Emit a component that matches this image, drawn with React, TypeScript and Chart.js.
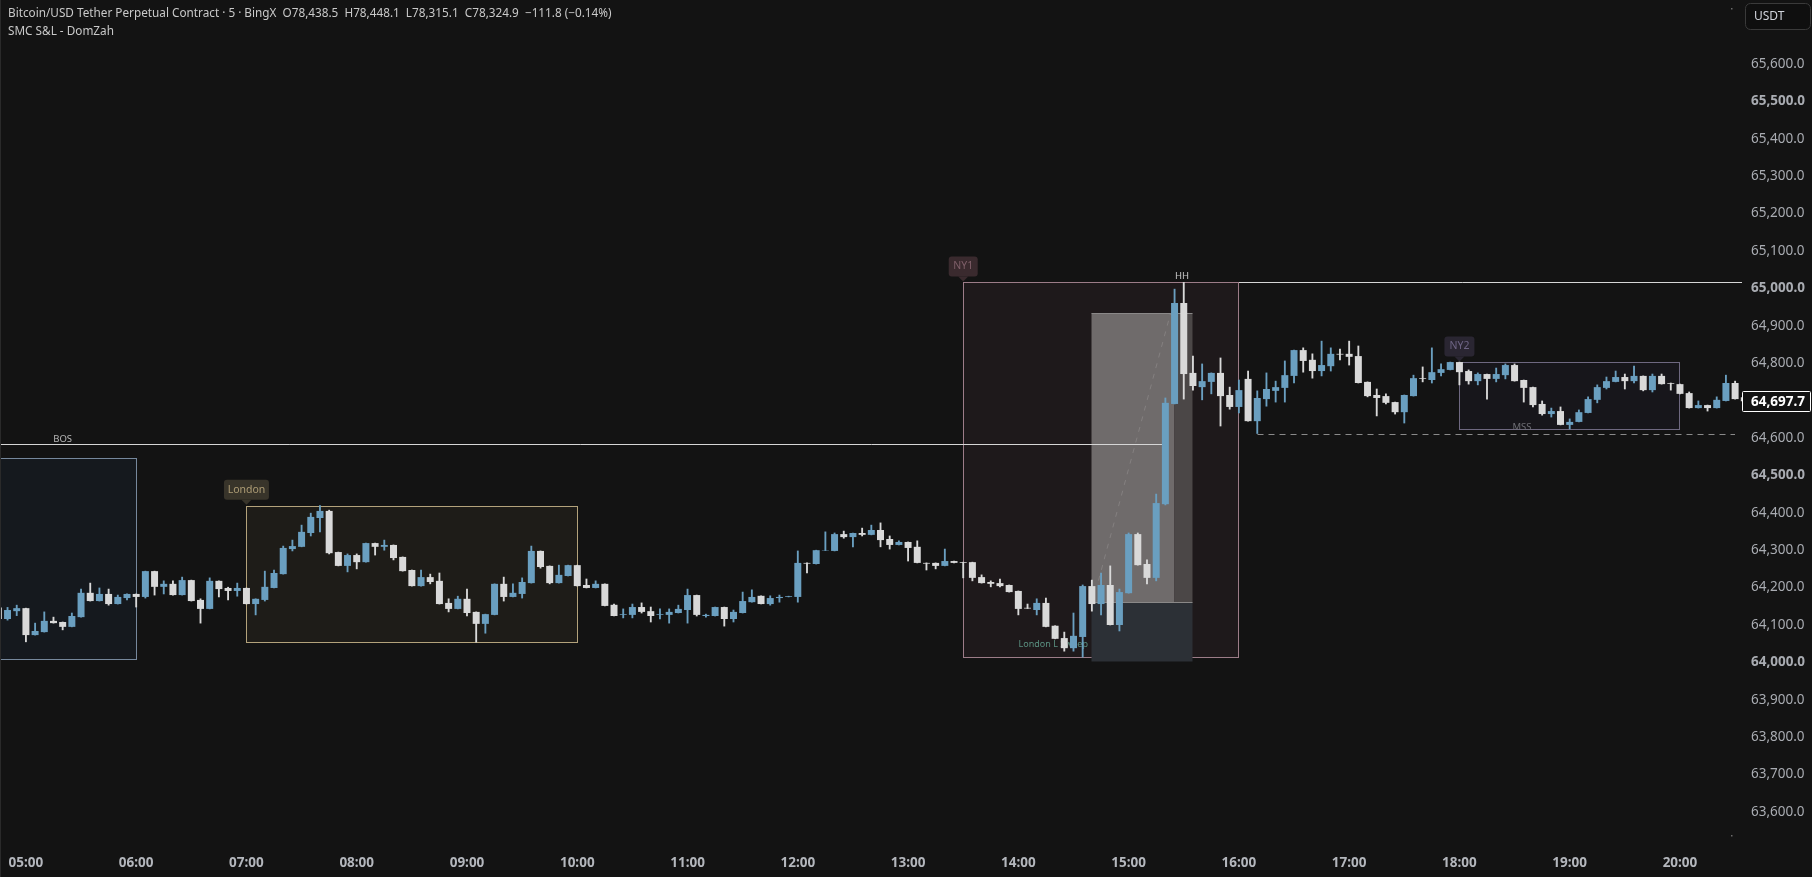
import React, { useEffect, useRef } from "react";
import { Chart, registerables } from "chart.js";

Chart.register(...registerables);

const firstIndex = -3;
const hourLabels = ["05:00","06:00","07:00","08:00","09:00","10:00","11:00","12:00","13:00","14:00","15:00","16:00","17:00","18:00","19:00","20:00"];

const opens = [64147,64116,64137,64145,
64073,64081,64111,64108,64095,64121,64186,64164,64183,64156,64172,64183,
64175,64244,64202,64210,64180,64220,64167,64143,64218,64199,64191,64199,
64156,64167,64199,64236,64303,64309,64346,64386,64405,64295,64258,64287,
64268,64319,64309,64314,64282,64247,64204,64228,64218,64159,64143,64170,
64135,64103,64127,64210,64175,64183,64212,64298,64258,64212,64231,64260,
64207,64199,64210,64154,64127,64127,64148,64137,64127,64127,64132,64140,
64180,64124,64124,64148,64116,64132,64161,64178,64156,64172,64175,64175,
64266,64263,64299,64298,64343,64335,64346,64341,64354,64330,64314,64322,
64309,64266,64266,64258,64271,64268,64268,64228,64215,64212,64207,64191,
64146,64140,64159,64098,64065,64038,64068,64204,64156,64207,64100,64185,
64343,64263,64226,64423,64691,64961,64774,64736,64750,64774,64715,64683,
64758,64645,64704,64726,64734,64766,64835,64809,64779,64792,64825,64825,
64819,64750,64715,64712,64696,64669,64712,64760,64755,64774,64782,64803,
64779,64752,64771,64758,64768,64795,64755,64736,64691,64664,64672,64635,
64643,64667,64702,64734,64750,64763,64752,64766,64728,64766,64747,64744,
64720,64680,64688,64680,64699,64747,64709];

const closes = [64116,64140,64145,64073,
64084,64111,64105,64095,64124,64186,64164,64183,64156,64175,64183,64175,
64244,64202,64210,64180,64220,64164,64143,64218,64196,64191,64199,64156,
64170,64202,64239,64306,64311,64349,64389,64405,64292,64258,64287,64268,
64319,64309,64314,64279,64244,64204,64228,64215,64156,64143,64170,64132,
64103,64129,64210,64175,64186,64215,64298,64255,64212,64234,64260,64204,
64199,64210,64151,64124,64129,64148,64135,64124,64129,64135,64143,64180,
64127,64127,64148,64116,64135,64164,64175,64156,64172,64175,64177,64266,
64264,64300,64300,64343,64335,64346,64341,64354,64327,64314,64322,64306,
64266,64264,64258,64271,64266,64266,64226,64212,64210,64204,64188,64143,
64144,64159,64095,64063,64038,64071,64204,64156,64207,64100,64188,64343,
64260,64226,64426,64694,64961,64771,64739,64752,64774,64712,64683,64728,
64645,64707,64731,64736,64768,64835,64806,64779,64795,64825,64823,64817,
64747,64712,64707,64694,64669,64715,64760,64758,64776,64784,64803,64776,
64752,64771,64758,64771,64795,64752,64734,64688,64664,64672,64635,64643,
64669,64704,64736,64752,64763,64752,64766,64728,64766,64744,64745,64718,
64680,64688,64680,64702,64747,64704,64698];

const highs = [64147,64147,64153,64145,
64105,64135,64121,64108,64132,64196,64212,64199,64196,64180,64183,64183,
64244,64244,64218,64218,64228,64220,64170,64226,64218,64201,64212,64199,
64170,64244,64247,64311,64327,64367,64399,64419,64407,64295,64290,64290,
64319,64319,64327,64314,64282,64247,64247,64236,64239,64170,64177,64196,
64135,64129,64210,64228,64210,64226,64311,64298,64258,64260,64260,64260,
64223,64218,64210,64156,64143,64156,64159,64148,64143,64143,64153,64196,
64180,64129,64148,64148,64140,64188,64194,64178,64178,64180,64177,64298,
64266,64300,64349,64346,64351,64346,64359,64367,64373,64338,64325,64322,
64325,64266,64266,64303,64271,64268,64268,64234,64218,64223,64207,64191,
64156,64170,64172,64098,64081,64132,64207,64220,64239,64258,64196,64346,
64346,64274,64450,64707,64998,65016,64819,64798,64774,64814,64736,64755,
64779,64726,64774,64752,64806,64835,64841,64825,64859,64841,64838,64859,
64846,64750,64731,64718,64696,64715,64768,64790,64841,64798,64803,64803,
64782,64774,64771,64787,64798,64798,64755,64736,64699,64680,64683,64651,
64675,64710,64742,64763,64779,64771,64792,64766,64771,64771,64747,64744,
64723,64699,64688,64710,64768,64752,64709];

const lows = [64116,64113,64125,64055,
64073,64081,64105,64087,64095,64121,64164,64164,64153,64156,64167,64148,
64172,64180,64183,64180,64180,64164,64105,64143,64175,64167,64177,64156,
64127,64164,64199,64236,64298,64309,64338,64349,64290,64258,64242,64250,
64268,64287,64300,64274,64244,64204,64204,64210,64156,64135,64143,64124,
64054,64078,64127,64164,64175,64172,64212,64252,64210,64212,64231,64204,
64199,64199,64151,64124,64119,64119,64132,64108,64116,64105,64132,64105,
64124,64121,64124,64097,64108,64132,64161,64156,64153,64161,64175,64161,
64239,64263,64299,64298,64332,64309,64338,64341,64309,64303,64314,64271,
64266,64247,64250,64258,64266,64226,64218,64212,64202,64202,64188,64127,
64144,64127,64095,64063,64030,64030,64014,64137,64127,64100,64084,64185,
64260,64210,64218,64421,64691,64704,64728,64702,64718,64632,64677,64667,
64645,64612,64685,64696,64696,64747,64776,64760,64766,64779,64809,64795,
64747,64710,64659,64691,64664,64640,64712,64750,64747,64766,64782,64742,
64744,64742,64704,64750,64758,64752,64696,64683,64661,64656,64635,64624,
64643,64667,64694,64731,64750,64731,64747,64726,64723,64744,64728,64718,
64680,64680,64672,64680,64699,64704,64693];

const lastPrice = 64697.7;
const legendLines = [
  "Bitcoin/USD Tether Perpetual Contract · 5 · BingX  O78,438.5  H78,448.1  L78,315.1  C78,324.9  −111.8 (−0.14%)",
  "SMC S&L - DomZah",
];

const BG = "#131313";
const UP = "#6A9FC0";
const DOWN = "#D9D9D9";
const UI_FONT = '"Noto Sans", sans-serif';

const colours = opens.map((o, k) => (closes[k] >= o ? UP : DOWN));
const bodies = opens.map((o, k) => ({ x: k + firstIndex, y: [o, closes[k]] }));
const wicks = lows.map((l, k) => ({ x: k + firstIndex, y: [l, highs[k]] }));

const noPadding = (s: any) => {
  s.paddingLeft = 0;
  s.paddingRight = 0;
  s.paddingTop = 0;
  s.paddingBottom = 0;
};

const annotationPlugin = {
  id: "smc",
  beforeDraw(chart: any) {
    const { ctx, width, height } = chart;
    ctx.save();
    ctx.fillStyle = BG;
    ctx.fillRect(0, 0, width, height);
    ctx.restore();
  },
  beforeDatasetsDraw(chart: any) {
    const { ctx, scales } = chart;
    const px = (v: number) => Math.floor(scales.x.getPixelForValue(v)) + 0.5;
    const py = (v: number) => Math.round(scales.y.getPixelForValue(v)) + 0.5;
    const areaRight = chart.chartArea.right;

    const box = (a: number, b: number, t: number, u: number, fill: string, stroke?: string) => {
      const x0 = px(a), x1 = px(b), y0 = py(t), y1 = py(u);
      ctx.fillStyle = fill;
      ctx.fillRect(x0, y0, x1 - x0, y1 - y0);
      if (stroke) {
        ctx.strokeStyle = stroke;
        ctx.lineWidth = 1;
        ctx.strokeRect(x0, y0, x1 - x0, y1 - y0);
      }
    };
    const hline = (a: number, xEnd: number, p: number, colour: string, dash: number[] = []) => {
      ctx.strokeStyle = colour;
      ctx.lineWidth = 1;
      ctx.setLineDash(dash);
      ctx.beginPath();
      ctx.moveTo(px(a), py(p));
      ctx.lineTo(xEnd, py(p));
      ctx.stroke();
      ctx.setLineDash([]);
    };
    const label = (text: string, x: number, y: number, colour: string, font: string) => {
      ctx.fillStyle = colour;
      ctx.font = font;
      ctx.textAlign = "center";
      ctx.textBaseline = "middle";
      ctx.fillText(text, x, y);
    };
    const tag = (text: string, i: number, p: number, w: number, bg: string, fg: string) => {
      const cx = scales.x.getPixelForValue(i);
      const tip = scales.y.getPixelForValue(p) - 1;
      ctx.fillStyle = bg;
      ctx.beginPath();
      ctx.roundRect(cx - w / 2, tip - 25, w, 20, 3);
      ctx.fill();
      ctx.beginPath();
      ctx.moveTo(cx - 5, tip - 5);
      ctx.lineTo(cx + 5, tip - 5);
      ctx.lineTo(cx, tip);
      ctx.closePath();
      ctx.fill();
      label(text, cx, tip - 15, fg, `10.5px ${UI_FONT}`);
    };

    ctx.save();
    // HH line runs under the NY1 frame
    hline(126, areaRight, 65016, "#D6D6D6");
    // Sessions
    box(-4, 12, 64546, 64008, "#15191E", "#76889C");
    box(24, 60, 64419, 64054, "#1E1C18", "#B3A27B");
    box(102, 132, 65016, 64014, "#1E191B", "#9C7C88");
    box(156, 180, 64802, 64623, "#17161B", "#6E6880");
    // Position tool
    box(116, 125, 64934, 64161, "#6F6B6B");
    box(125, 127, 64934, 64161, "#4B4747");
    box(116, 127, 64161, 64005, "#2C3036");
    hline(116, px(127), 64934, "#8A8888");
    hline(116, px(127), 64161, "#8A8888");
    ctx.strokeStyle = "#848080";
    ctx.setLineDash([5, 6]);
    ctx.beginPath();
    ctx.moveTo(px(116.7), py(64220));
    ctx.lineTo(px(124.6), py(64933));
    ctx.stroke();
    ctx.setLineDash([]);
    // Structure lines
    hline(-4, scales.x.getPixelForValue(123.7), 64583, "#D6D6D6");
    hline(134, 1735, 64612, "#8A8A8A", [6, 5]);
    // Text marks
    label("BOS", scales.x.getPixelForValue(4), scales.y.getPixelForValue(64597), "#B8B8B8", `9.5px ${UI_FONT}`);
    label("HH", scales.x.getPixelForValue(125.8), scales.y.getPixelForValue(65033), "#C8C8C8", `9.5px ${UI_FONT}`);
    label("MSS", scales.x.getPixelForValue(162.8), scales.y.getPixelForValue(64628), "#6E6E74", `9.5px ${UI_FONT}`);
    label("London L Sweep", scales.x.getPixelForValue(111.8), scales.y.getPixelForValue(64049), "#5A9080", `9px ${UI_FONT}`);
    tag("London", 24, 64419, 45, "#38342A", "#AD9C75");
    tag("NY1", 102, 65016, 29, "#3A2A2E", "#7F5F69");
    tag("NY2", 156, 64802, 30, "#2A2632", "#6E6585");
    ctx.restore();
  },
  afterDraw(chart: any) {
    const { ctx, scales } = chart;
    ctx.save();
    // Legend
    ctx.fillStyle = "#C9C9C9";
    ctx.font = `11.75px ${UI_FONT}`;
    ctx.textAlign = "left";
    ctx.textBaseline = "middle";
    ctx.fillText(legendLines[0], 8, 14);
    ctx.fillText(legendLines[1], 8, 32);
    // Left edge
    ctx.fillStyle = "#2A2A2A";
    ctx.fillRect(0, 0, 1, chart.height);
    // Currency button
    ctx.fillStyle = "#0F0F0F";
    ctx.strokeStyle = "#3A3A3A";
    ctx.lineWidth = 1;
    ctx.beginPath();
    ctx.roundRect(1745.5, 3.5, 65, 26, 5);
    ctx.fill();
    ctx.stroke();
    ctx.fillStyle = "#D1D4DC";
    ctx.font = `12px ${UI_FONT}`;
    ctx.fillText("USDT", 1754, 17);
    // Last price
    const y = scales.y.getPixelForValue(lastPrice);
    ctx.fillStyle = BG;
    ctx.strokeStyle = "#FFFFFF";
    ctx.beginPath();
    ctx.roundRect(1742.5, Math.round(y) - 9.5, 68, 20, 1);
    ctx.fill();
    ctx.stroke();
    ctx.fillStyle = "#FFFFFF";
    ctx.font = `bold 13.5px ${UI_FONT}`;
    ctx.fillText("64,697.7", 1751, y + 1);
    // Small handles
    ctx.fillStyle = "#6A6A6A";
    ctx.fillRect(1731, 8, 1.5, 1.5);
    ctx.fillRect(1731, 835, 1.5, 1.5);
    ctx.restore();
  },
};

export default function App() {
  const ref = useRef<HTMLCanvasElement | null>(null);
  useEffect(() => {
    document.body.style.margin = "0";
    document.body.style.background = BG;
    const chart = new Chart(ref.current as HTMLCanvasElement, {
      type: "bar",
      data: {
        datasets: [
          { data: bodies as any, backgroundColor: colours, borderWidth: 0, grouped: false, barPercentage: 0.76, categoryPercentage: 1, order: 1 } as any,
          { data: wicks as any, backgroundColor: colours, borderWidth: 0, grouped: false, barPercentage: 1, categoryPercentage: 1, maxBarThickness: 1.2, order: 2 } as any,
        ],
      },
      options: {
        animation: false,
        responsive: false,
        devicePixelRatio: 1,
        layout: { padding: 0 },
        plugins: { legend: { display: false }, tooltip: { enabled: false } },
        events: [],
        scales: {
          x: {
            type: "linear",
            offset: false,
            min: -2.82,
            max: 186.75,
            grid: { display: false, offset: false },
            border: { display: false },
            afterFit: (s: any) => { s.height = 37; noPadding(s); },
            ticks: {
              stepSize: 12,
              includeBounds: false,
              autoSkip: false,
              maxRotation: 0,
              minRotation: 0,
              padding: 7,
              color: "#B4B7BD",
              font: { family: UI_FONT, size: 13.5, weight: "bold" },
              callback: (v: any) => hourLabels[Math.round(v / 12)] ?? "",
            },
          },
          y: {
            type: "linear",
            position: "right",
            min: 63525.1,
            max: 65771.1,
            grid: { display: false },
            border: { display: false },
            afterFit: (s: any) => { s.width = 70; noPadding(s); },
            ticks: {
              stepSize: 100,
              includeBounds: false,
              autoSkip: false,
              padding: 1,
              color: "#A9ACB2",
              font: (c: any) => ({
                family: UI_FONT,
                size: 13.5,
                weight: c.tick && c.tick.value % 500 === 0 ? "bold" : "normal",
              }),
              callback: (v: any) => (v > 65600 ? "" : Number(v).toLocaleString("en-US", { minimumFractionDigits: 1, maximumFractionDigits: 1 })),
            },
          },
        },
      } as any,
      plugins: [annotationPlugin as any],
    });
    return () => chart.destroy();
  }, []);
  return (
    <div style={{ position: "absolute", left: 0, top: 0, width: 1812, height: 877 }}>
      <canvas ref={ref} width={1812} height={877} style={{ display: "block", width: 1812, height: 877 }} />
    </div>
  );
}
